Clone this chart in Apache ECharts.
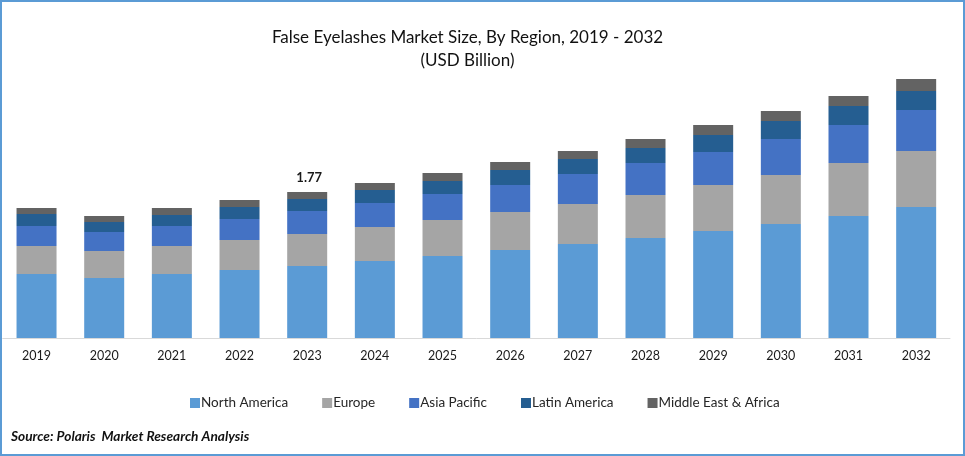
<!DOCTYPE html>
<html>
<head>
<meta charset="utf-8">
<style>
html, body { margin: 0; padding: 0; background: #fff; }
#main { width: 965px; height: 456px; }
</style>
<script src="https://cdn.jsdelivr.net/npm/echarts@6/dist/echarts.min.js"></script>
</head>
<body>
<div id="main"></div>
<script>
// values, USD billion
var years = ['2019','2020','2021','2022','2023','2024','2025','2026','2027','2028','2029','2030','2031','2032'];
var northAmerica = [0.775,0.727,0.775,0.824,0.872,0.933,0.993,1.066,1.139,1.212,1.296,1.381,1.478,1.587];
var europe = [0.339,0.327,0.339,0.363,0.388,0.412,0.436,0.460,0.485,0.521,0.557,0.594,0.642,0.678];
var asiaPacific = [0.242,0.230,0.242,0.254,0.279,0.291,0.315,0.327,0.363,0.388,0.400,0.436,0.460,0.497];
var latinAmerica = [0.145,0.121,0.133,0.145,0.145,0.157,0.157,0.182,0.182,0.182,0.206,0.218,0.230,0.230];
var middleEast = [0.073,0.073,0.085,0.085,0.085,0.085,0.097,0.097,0.097,0.109,0.121,0.121,0.121,0.145];
var totalLabels = {'2023': '1.77'};

var fontName = 'Lato';
var myChart = echarts.init(document.getElementById('main'));

function makeSeries(name, color, data) {
    return {
        name: name,
        type: 'bar',
        stack: 'total',
        barWidth: 40,
        itemStyle: {color: color},
        data: data
    };
}

// 只有2023年的柱子顶上有数字
var topData = middleEast.map(function (v, i) {
    var text = totalLabels[years[i]];
    if (!text) {
        return v;
    }
    return {
        value: v,
        label: {
            show: true,
            position: 'top',
            distance: 8,
            offset: [2, 0],
            formatter: text,
            color: '#1a1a1a',
            fontFamily: fontName,
            fontWeight: 'bold',
            fontSize: 13
        }
    };
});

var option = {
    animation: false,
    backgroundColor: '#fff',
    title: {
        text: 'False Eyelashes Market Size, By Region, 2019 - 2032\n(USD Billion)',
        left: 462.5,
        top: 21,
        textAlign: 'center',
        textStyle: {
            color: '#111',
            fontFamily: fontName,
            fontWeight: 'normal',
            fontSize: 17,
            lineHeight: 23
        }
    },
    legend: {
        left: 190,
        top: 396,
        padding: 0,
        itemWidth: 10,
        itemHeight: 10,
        itemGap: 34,
        icon: 'rect',
        textStyle: {
            color: '#262626',
            fontFamily: fontName,
            fontSize: 13.5,
            padding: [0, 0, 0, -4]
        }
    },
    grid: {
        left: 2.7,
        right: 15,
        top: 78,
        bottom: 118
    },
    xAxis: {
        type: 'category',
        data: years,
        axisLine: {lineStyle: {color: '#d9d9d9', width: 1}},
        axisTick: {show: false},
        axisLabel: {
            color: '#1a1a1a',
            fontFamily: fontName,
            fontSize: 12.5,
            margin: 11
        }
    },
    yAxis: {
        type: 'value',
        min: 0,
        max: 3.15,
        show: false
    },
    series: [
        makeSeries('North America', '#5B9BD5', northAmerica),
        makeSeries('Europe', '#A5A5A5', europe),
        makeSeries('Asia Pacific', '#4472C4', asiaPacific),
        makeSeries('Latin America', '#255E91', latinAmerica),
        makeSeries('Middle East & Africa', '#636363', topData)
    ],
    graphic: [
        {
            type: 'rect',
            silent: true,
            shape: {x: 1, y: 1, width: 963, height: 454},
            style: {fill: 'none', stroke: '#5B9BD5', lineWidth: 2}
        },
        {
            type: 'text',
            left: 11,
            top: 430,
            style: {
                text: 'Source: Polaris  Market Research Analysis',
                fill: '#111',
                font: 'italic bold 13.7px ' + fontName
            }
        }
    ]
};

myChart.setOption(option);
</script>
</body>
</html>
